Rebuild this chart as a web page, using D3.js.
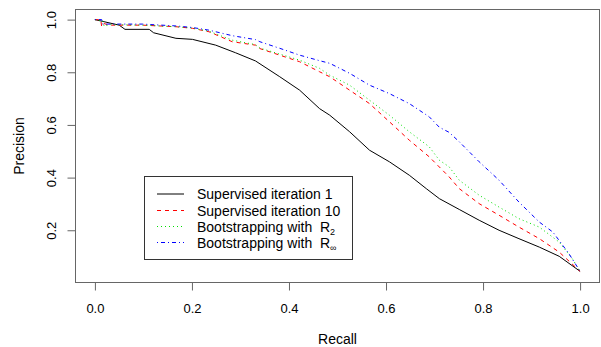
<!DOCTYPE html>
<html>
<head>
<meta charset="utf-8">
<script src="https://cdn.jsdelivr.net/npm/d3@7"></script>
<style>
  html, body { margin: 0; padding: 0; background: #fff; }
  svg { display: block; font-family: "Liberation Sans", Arial, Helvetica, sans-serif; }
</style>
</head>
<body>
<svg id="chart" width="601" height="347"></svg>
<script>
// ---- data ----
const xTicks = [0.0, 0.2, 0.4, 0.6, 0.8, 1.0];
const yTicks = [0.2, 0.4, 0.6, 0.8, 1.0];

const legendLabels = ["Supervised iteration 1", "Supervised iteration 10", "Bootstrapping with  R", "Bootstrapping with  R"];
const legendSubs = ["", "", "2", "\u221E"];

const recallSup1 = [0.0, 0.050, 0.062, 0.112, 0.121, 0.167, 0.201, 0.249, 0.290, 0.331, 0.381, 0.422, 0.463, 0.484, 0.525, 0.566, 0.607, 0.648, 0.683, 0.710, 0.751, 0.792, 0.833, 0.874, 0.916, 0.957, 1.0];
const precSup1   = [1.0, 0.979, 0.963, 0.963, 0.950, 0.929, 0.925, 0.903, 0.874, 0.843, 0.783, 0.732, 0.662, 0.637, 0.574, 0.504, 0.460, 0.409, 0.358, 0.320, 0.279, 0.238, 0.200, 0.168, 0.136, 0.101, 0.044];

const recallSup10 = [0.0, 0.012, 0.014, 0.019, 0.029, 0.098, 0.167, 0.201, 0.235, 0.283, 0.331, 0.340, 0.381, 0.422, 0.463, 0.484, 0.525, 0.566, 0.607, 0.648, 0.689, 0.730, 0.751, 0.792, 0.833, 0.874, 0.916, 0.957, 1.0];
const precSup10   = [1.0, 0.999, 0.973, 0.985, 0.979, 0.979, 0.973, 0.967, 0.954, 0.916, 0.903, 0.890, 0.865, 0.840, 0.802, 0.783, 0.732, 0.681, 0.612, 0.542, 0.479, 0.403, 0.358, 0.301, 0.257, 0.212, 0.168, 0.117, 0.044];

const recallBootR2 = [0.0, 0.016, 0.019, 0.031, 0.098, 0.167, 0.201, 0.235, 0.283, 0.331, 0.340, 0.381, 0.422, 0.463, 0.484, 0.525, 0.566, 0.607, 0.648, 0.689, 0.710, 0.730, 0.751, 0.792, 0.833, 0.874, 0.916, 0.957, 0.984, 1.0];
const precBootR2   = [1.0, 0.996, 0.975, 0.981, 0.979, 0.973, 0.968, 0.956, 0.922, 0.905, 0.892, 0.869, 0.846, 0.815, 0.789, 0.751, 0.694, 0.637, 0.574, 0.517, 0.466, 0.441, 0.390, 0.333, 0.288, 0.244, 0.212, 0.155, 0.092, 0.044];

const recallBootRinf = [0.0, 0.014, 0.016, 0.098, 0.167, 0.201, 0.235, 0.283, 0.331, 0.340, 0.381, 0.422, 0.463, 0.484, 0.525, 0.566, 0.607, 0.648, 0.689, 0.710, 0.730, 0.751, 0.792, 0.833, 0.874, 0.916, 0.944, 0.977, 1.0];
const precBootRinf   = [1.0, 1.0, 0.983, 0.983, 0.976, 0.970, 0.960, 0.939, 0.924, 0.916, 0.891, 0.865, 0.844, 0.834, 0.796, 0.751, 0.719, 0.681, 0.631, 0.591, 0.572, 0.536, 0.460, 0.390, 0.307, 0.231, 0.193, 0.111, 0.044];

const seriesColors = ["#000000", "#ff0000", "#00e000", "#0000ff"];
const seriesDash = [null, "4,4", "1,3", "1,3,4,3"];

const series = [
  {r: recallSup1, p: precSup1},
  {r: recallSup10, p: precSup10},
  {r: recallBootR2, p: precBootR2},
  {r: recallBootRinf, p: precBootRinf}
].map((s, i) => ({
  name: legendLabels[i], sub: legendSubs[i], color: seriesColors[i], dash: seriesDash[i],
  pts: s.r.map((rv, j) => [rv, s.p[j]])
}));

// ---- drawing ----
const svg = d3.select("#chart");
const pL = 75.5, pR = 599.5, pT = 9.5, pB = 282.5;

const x = d3.scaleLinear().domain([-0.04, 1.04]).range([pL, pR]);
const y = d3.scaleLinear().domain([0.0016, 1.0384]).range([pB, pT]);

// curves
const line = d3.line().x(d => x(d[0])).y(d => y(d[1]));
svg.append("g").selectAll("path").data(series).join("path")
  .attr("d", d => line(d.pts))
  .attr("fill", "none")
  .attr("stroke", d => d.color)
  .attr("stroke-width", 1)
  .attr("stroke-dasharray", d => d.dash);

// box
svg.append("rect")
  .attr("x", pL).attr("y", pT)
  .attr("width", pR - pL).attr("height", pB - pT)
  .attr("fill", "none").attr("stroke", "#666").attr("stroke-width", 1);

// x axis
const xAxis = svg.append("g").attr("transform", `translate(0,${pB})`)
  .call(d3.axisBottom(x).tickValues(xTicks).tickSize(8).tickPadding(13).tickFormat(d3.format(".1f")));
xAxis.select(".domain").remove();
xAxis.selectAll(".tick line").attr("stroke", "#666");
xAxis.selectAll(".tick text").attr("font-size", 13).attr("fill", "#000")
  .attr("font-family", "Liberation Sans, Arial, sans-serif");

// y axis
const yAxis = svg.append("g").attr("transform", `translate(${pL},0)`)
  .call(d3.axisLeft(y).tickValues(yTicks).tickSize(8).tickFormat(d3.format(".1f")));
yAxis.select(".domain").remove();
yAxis.selectAll(".tick line").attr("stroke", "#666");
yAxis.selectAll(".tick text")
  .attr("font-size", 13).attr("fill", "#000")
  .attr("font-family", "Liberation Sans, Arial, sans-serif")
  .attr("x", null).attr("dy", null)
  .attr("text-anchor", "middle")
  .attr("transform", "translate(-19.5,0) rotate(-90)");

// axis titles
svg.append("text").attr("x", (pL + pR) / 2).attr("y", 343.5)
  .attr("text-anchor", "middle").attr("font-size", 14).text("Recall");
svg.append("text").attr("transform", `translate(24,${(pT + pB) / 2}) rotate(-90)`)
  .attr("text-anchor", "middle").attr("font-size", 14).text("Precision");

// legend
const lg = svg.append("g");
lg.append("rect").attr("x", 144.5).attr("y", 176.5).attr("width", 208).attr("height", 83)
  .attr("fill", "#fff").attr("stroke", "#333").attr("stroke-width", 1);
const rowY = [194, 210.5, 226.5, 242.5];
const items = lg.selectAll("g.item").data(series).join("g").attr("class", "item")
  .attr("transform", (d, i) => `translate(0,${rowY[i]})`);
items.append("line").attr("x1", 157).attr("x2", 184).attr("y1", 0).attr("y2", 0)
  .attr("stroke", d => d.color).attr("stroke-width", 1).attr("stroke-dasharray", d => d.dash);
const txt = items.append("text").attr("x", 197).attr("y", 5).attr("font-size", 14)
  .attr("xml:space", "preserve").style("white-space", "pre");
txt.append("tspan").text(d => d.name);
txt.filter(d => d.sub).append("tspan").attr("font-size", 9).attr("dy", 3).text(d => d.sub);
</script>
</body>
</html>
